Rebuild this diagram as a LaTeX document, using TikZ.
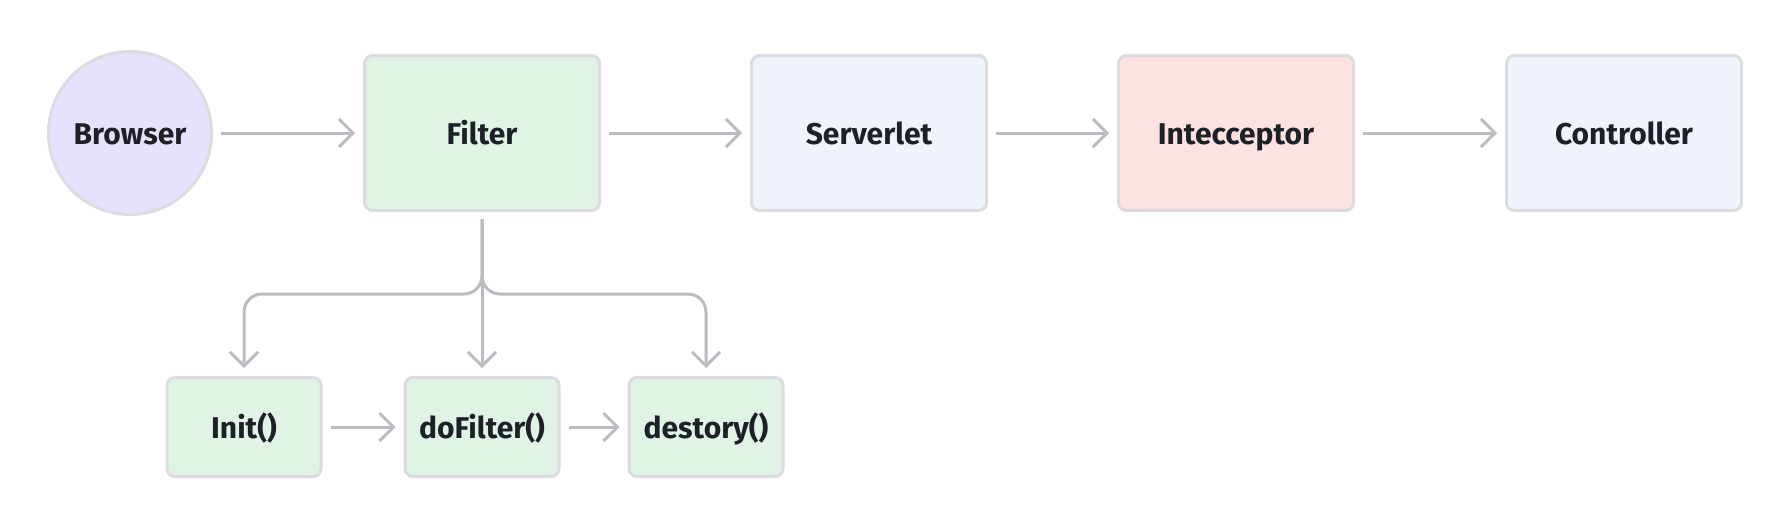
\documentclass[tikz,border=0pt]{standalone}
\usepackage{fontspec}
\setmainfont{Fira Sans}
\usetikzlibrary{arrows.meta}
\definecolor{bordergray}{HTML}{DCDCE0}
\definecolor{arrowgray}{HTML}{BBBCC1}
\definecolor{txt}{HTML}{1E2027}
\definecolor{lav}{HTML}{E8E1FD}
\definecolor{mint}{HTML}{DFF4E5}
\definecolor{ice}{HTML}{EEF3FC}
\definecolor{rose}{HTML}{FDE2E2}
\tikzset{
  base/.style={draw=bordergray, line width=3pt, text=txt, font=\fontsize{30}{34}\selectfont\bfseries, inner sep=0pt, text height=25pt, text depth=2pt},
  bigbox/.style={base, rounded corners=8pt, minimum width=235pt, minimum height=155pt},
  smallbox/.style={base, rounded corners=8pt, minimum width=154pt, minimum height=99pt, fill=mint},
  arr/.style={draw=arrowgray, line width=3pt, -{Straight Barb[length=14pt,width=28pt]}},
}
\begin{document}
\begin{tikzpicture}[x=1pt,y=-1pt]
\useasboundingbox (0,0) rectangle (1792,528);
\node[base, circle, fill=lav, minimum size=163pt] (browser) at (130,133) {Browser};
\node[bigbox, fill=mint] (filter) at (482,133) {Filter};
\node[bigbox, fill=ice] (serv) at (869,133) {Serverlet};
\node[bigbox, fill=rose] (inter) at (1236,133) {Intecceptor};
\node[bigbox, fill=ice] (ctrl) at (1624,133) {Controller};
\node[smallbox] (init) at (244,427) {Init()};
\node[smallbox] (dof) at (482,427) {doFilter()};
\node[smallbox] (dest) at (706,427) {destory()};
\draw[arr, shorten <=8pt, shorten >=8pt] (browser) -- (filter);
\draw[arr, shorten <=8pt, shorten >=8pt] (filter) -- (serv);
\draw[arr, shorten <=8pt, shorten >=8pt] (serv) -- (inter);
\draw[arr, shorten <=8pt, shorten >=8pt] (inter) -- (ctrl);
\draw[arr, shorten <=8pt, shorten >=8pt] (init) -- (dof);
\draw[arr, shorten <=8pt, shorten >=8pt] (dof) -- (dest);
\draw[arr, shorten <=7pt, shorten >=8pt] (filter.south) -- (dof.north);
\draw[arr, rounded corners=18pt, shorten <=7pt, shorten >=8pt] (filter.south) -- ++(0,82) -| (init.north);
\draw[arr, rounded corners=18pt, shorten <=7pt, shorten >=8pt] (filter.south) -- ++(0,82) -| (dest.north);
\end{tikzpicture}
\end{document}
